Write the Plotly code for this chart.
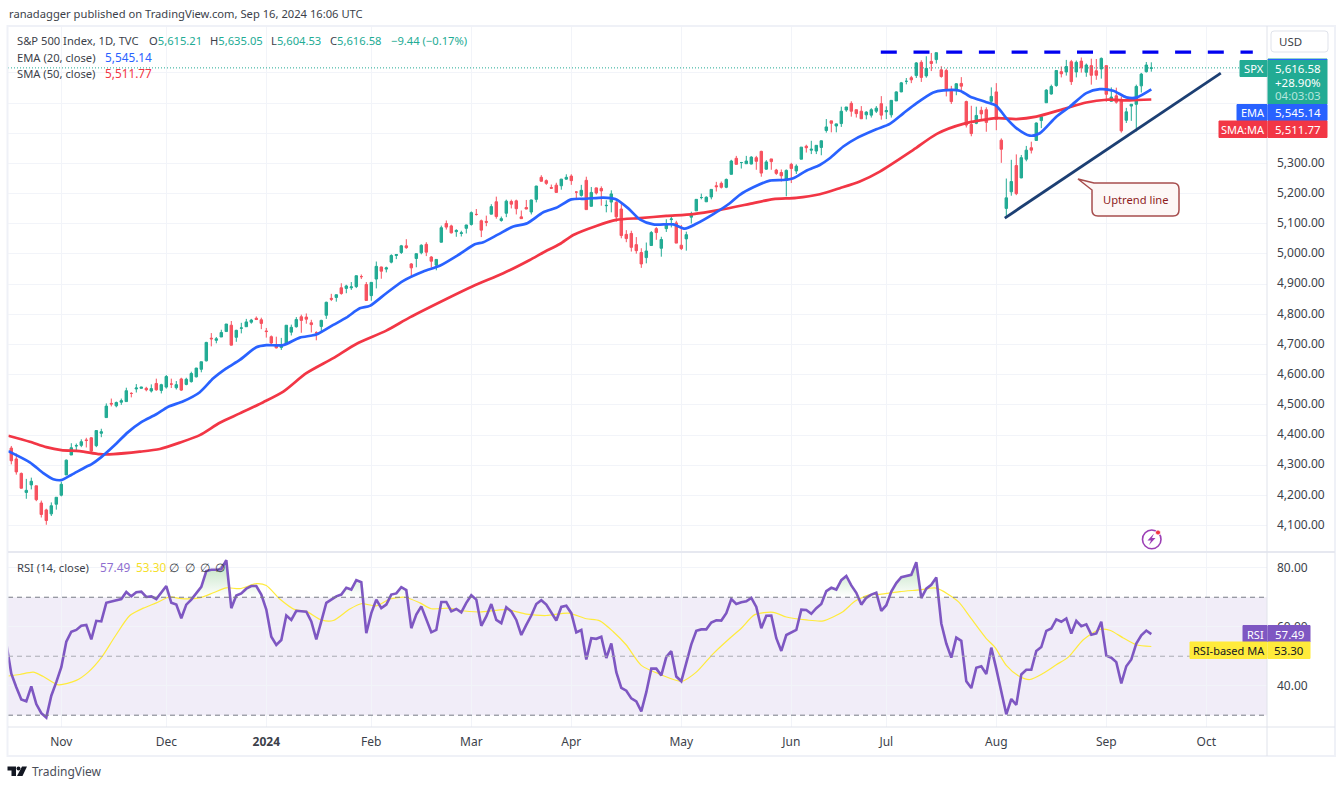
import plotly.graph_objects as go
from plotly.subplots import make_subplots

W, H = 1340, 788

# daily candles, Oct 18 2023 to Sep 16 2024 (bar 0 = Nov 1 2023)
opens = [
    4357, 4321, 4273, 4210, 4235, 4232, 4175, 4152, 4139, 4171,
    4201, 4268, 4334, 4364, 4366, 4384, 4391, 4365, 4406, 4458, 4505, 4497, 4509, 4511, 4538, 4553, 4555, 4555, 4546, 4571, 4548,
    4559, 4569, 4557, 4586, 4568, 4577, 4593, 4618, 4646, 4721, 4714, 4725, 4743, 4764, 4724, 4754, 4759, 4774, 4787, 4782,
    4745, 4726, 4697, 4690, 4703, 4741, 4759, 4792, 4791, 4772, 4739, 4760, 4797, 4853, 4856, 4888, 4886, 4888, 4892, 4925, 4899,
    4862, 4917, 4957, 4950, 4973, 4995, 5005, 5027, 4967, 4985, 5004, 5032, 4990, 4963, 5039, 5101, 5093, 5074, 5068, 5085,
    5098, 5131, 5110, 5108, 5132, 5173, 5111, 5135, 5174, 5176, 5123, 5154, 5139, 5181, 5254, 5243, 5220, 5228, 5226, 5248,
    5258, 5205, 5194, 5244, 5158, 5219, 5217, 5160, 5172, 5171, 5149, 5065, 5068, 5031, 5005, 4988, 5028, 5084, 5019, 5084, 5114, 5103,
    5029, 5050, 5122, 5143, 5187, 5173, 5189, 5226, 5234, 5221, 5264, 5317, 5303, 5299, 5298, 5319, 5340, 5281, 5315, 5278, 5270, 5244,
    5297, 5275, 5314, 5357, 5344, 5341, 5353, 5409, 5441, 5424, 5432, 5477, 5499, 5478, 5473, 5461, 5460, 5473, 5498,
    5471, 5461, 5507, 5537, 5572, 5584, 5591, 5635, 5590, 5638, 5644, 5610, 5608, 5543, 5544, 5565, 5505, 5429, 5433, 5476, 5478, 5506,
    5537, 5377, 5151, 5206, 5293, 5252, 5314, 5352, 5376, 5442, 5501, 5530, 5558, 5604, 5603, 5637, 5603, 5639, 5602, 5624, 5607, 5613,
    5624, 5506, 5524, 5507, 5443, 5490, 5496, 5557, 5604, 5615,
]
highs = [
    4364, 4339, 4276, 4255, 4259, 4232, 4183, 4156, 4177, 4194,
    4245, 4319, 4373, 4372, 4386, 4391, 4393, 4415, 4421, 4505, 4521, 4511, 4521, 4557, 4542, 4569, 4560, 4560, 4568, 4587, 4570,
    4599, 4587, 4579, 4590, 4590, 4610, 4623, 4643, 4709, 4738, 4725, 4749, 4768, 4778, 4749, 4772, 4785, 4785, 4793, 4789,
    4755, 4730, 4726, 4722, 4764, 4766, 4791, 4799, 4803, 4782, 4744, 4782, 4842, 4868, 4866, 4903, 4898, 4907, 4929, 4932, 4907,
    4906, 4975, 4958, 4958, 4999, 5000, 5030, 5049, 4970, 5002, 5032, 5039, 4993, 4983, 5094, 5111, 5097, 5082, 5077, 5097,
    5141, 5149, 5114, 5127, 5165, 5190, 5124, 5180, 5180, 5180, 5144, 5179, 5180, 5226, 5261, 5247, 5230, 5236, 5249, 5264,
    5264, 5208, 5229, 5256, 5222, 5220, 5224, 5178, 5211, 5176, 5168, 5079, 5077, 5056, 5019, 5038, 5076, 5089, 5057, 5115, 5124, 5110,
    5096, 5074, 5140, 5181, 5200, 5191, 5215, 5239, 5240, 5250, 5312, 5325, 5305, 5325, 5324, 5325, 5342, 5311, 5315, 5282, 5280, 5280,
    5302, 5297, 5354, 5362, 5375, 5360, 5376, 5447, 5441, 5432, 5488, 5487, 5506, 5478, 5490, 5473, 5483, 5490, 5523,
    5489, 5510, 5539, 5570, 5583, 5590, 5636, 5642, 5655, 5666, 5667, 5622, 5614, 5557, 5566, 5586, 5508, 5491, 5488, 5488, 5486, 5552,
    5566, 5383, 5250, 5312, 5330, 5328, 5358, 5372, 5436, 5463, 5546, 5561, 5609, 5621, 5643, 5643, 5641, 5651, 5631, 5647, 5646, 5651,
    5625, 5552, 5551, 5522, 5484, 5497, 5561, 5600, 5636, 5635,
]
lows = [
    4303, 4269, 4223, 4189, 4220, 4181, 4127, 4103, 4132, 4153,
    4197, 4268, 4334, 4347, 4360, 4359, 4343, 4360, 4393, 4458, 4495, 4492, 4500, 4511, 4525, 4541, 4554, 4545, 4541, 4547, 4538,
    4554, 4556, 4551, 4546, 4565, 4574, 4591, 4608, 4644, 4694, 4704, 4725, 4743, 4697, 4709, 4737, 4759, 4769, 4781, 4751,
    4723, 4696, 4687, 4682, 4700, 4730, 4756, 4739, 4769, 4740, 4714, 4740, 4785, 4844, 4842, 4865, 4870, 4881, 4887, 4917, 4845,
    4845, 4886, 4918, 4939, 4969, 4983, 5000, 5017, 4921, 4956, 4999, 4993, 4955, 4946, 5038, 5081, 5068, 5057, 5058, 5068,
    5094, 5127, 5056, 5092, 5131, 5117, 5107, 5122, 5151, 5131, 5117, 5148, 5131, 5171, 5240, 5229, 5216, 5203, 5213, 5246,
    5229, 5184, 5190, 5147, 5157, 5197, 5160, 5138, 5138, 5107, 5052, 5039, 5008, 5001, 4954, 4969, 5027, 5047, 4991, 5073, 5088, 5036,
    5013, 5011, 5101, 5143, 5181, 5172, 5181, 5207, 5217, 5218, 5263, 5297, 5283, 5299, 5297, 5279, 5256, 5279, 5279, 5262, 5240, 5191,
    5235, 5265, 5314, 5336, 5331, 5331, 5327, 5402, 5403, 5403, 5421, 5471, 5455, 5452, 5447, 5446, 5452, 5467, 5445,
    5447, 5452, 5507, 5536, 5562, 5566, 5583, 5570, 5584, 5606, 5631, 5584, 5522, 5497, 5526, 5540, 5419, 5390, 5430, 5444, 5405, 5493,
    5410, 5302, 5120, 5193, 5195, 5251, 5307, 5333, 5376, 5417, 5501, 5528, 5554, 5585, 5591, 5560, 5585, 5601, 5587, 5561, 5577, 5581,
    5504, 5505, 5498, 5402, 5434, 5441, 5406, 5535, 5601, 5604,
]
closes = [
    4315, 4278, 4224, 4217, 4247, 4186, 4137, 4117, 4166, 4194,
    4237, 4317, 4358, 4365, 4378, 4382, 4347, 4415, 4411, 4496, 4503, 4508, 4514, 4547, 4538, 4556, 4559, 4550, 4554, 4550, 4567,
    4594, 4569, 4567, 4549, 4585, 4604, 4622, 4643, 4707, 4719, 4719, 4740, 4768, 4698, 4747, 4755, 4775, 4781, 4783, 4770,
    4743, 4705, 4689, 4697, 4764, 4757, 4783, 4780, 4784, 4766, 4739, 4780, 4840, 4850, 4865, 4869, 4894, 4891, 4928, 4925, 4846,
    4906, 4959, 4943, 4954, 4995, 4998, 5027, 5021, 4954, 5001, 5029, 5006, 4976, 4982, 5087, 5089, 5070, 5078, 5070, 5096,
    5137, 5131, 5079, 5105, 5157, 5124, 5117, 5175, 5165, 5150, 5117, 5149, 5179, 5225, 5241, 5234, 5218, 5204, 5248, 5254,
    5243, 5205, 5211, 5147, 5204, 5202, 5209, 5161, 5199, 5123, 5061, 5051, 5022, 5011, 4967, 5010, 5071, 5071, 5048, 5100, 5116, 5036,
    5018, 5064, 5128, 5181, 5187, 5188, 5214, 5223, 5221, 5247, 5308, 5297, 5303, 5308, 5321, 5307, 5268, 5305, 5306, 5267, 5259, 5277,
    5283, 5291, 5354, 5352, 5347, 5360, 5375, 5421, 5433, 5431, 5473, 5487, 5473, 5465, 5448, 5470, 5478, 5483, 5460,
    5475, 5509, 5537, 5567, 5572, 5577, 5633, 5585, 5615, 5631, 5667, 5588, 5544, 5505, 5564, 5556, 5427, 5399, 5459, 5464, 5436, 5522,
    5446, 5347, 5186, 5240, 5200, 5319, 5344, 5344, 5434, 5455, 5543, 5555, 5608, 5597, 5621, 5571, 5635, 5617, 5626, 5592, 5592, 5648,
    5529, 5520, 5503, 5408, 5471, 5496, 5555, 5596, 5626, 5616.58,
]
bars = list(range(-10, 219))

# EMA 20, read every few bars
ema_x = [-10.6, -6.3, -3.6, -1.6, 0, 2, 5, 6, 8, 10.7, 13.3, 16, 19, 21.4, 24.4, 27.7, 30.4, 33, 35.7, 39, 41, 44.4, 47.7, 51,
         54.4, 57, 59.7, 61.7, 65, 68.4, 72.4, 75.7, 79.7, 82.7, 84.4, 87.4, 90.4, 93.2, 96.4, 99, 102, 105, 108.4, 110.8,
         113.4, 115.7, 118.4, 122.4, 124.7, 127, 130.4, 133.7, 135.7, 138.4, 141.7, 144.4, 146.4, 149, 151.7, 153.7, 156.4,
         159, 163, 165.7, 168.4, 171, 174.4, 176.4, 179.7, 181.7, 185, 187, 189, 191, 193.7, 195.7, 199, 201.7, 205, 207.7,
         210.4, 213, 215, 218]
ema_y = [4347, 4310, 4274, 4254, 4251, 4268, 4295, 4303, 4327, 4367, 4409, 4443, 4469, 4494, 4512, 4542, 4588, 4621, 4649, 4691,
         4698, 4698, 4723, 4733, 4765, 4789, 4820, 4828, 4870, 4911, 4942, 4961, 5000, 5032, 5039, 5065, 5091, 5102, 5138, 5153,
         5181, 5183, 5187, 5182, 5151, 5115, 5098, 5098, 5084, 5100, 5132, 5168, 5196, 5221, 5243, 5245, 5251, 5276, 5295, 5317,
         5356, 5383, 5413, 5431, 5466, 5499, 5535, 5542, 5541, 5522, 5503, 5491, 5450, 5417, 5392, 5400, 5455, 5488, 5533, 5546,
         5541, 5519, 5518, 5545.14]

# SMA 50
sma_x = [-10.6, -6.3, -3, 0, 3.7, 7.7, 10.4, 15.7, 19.7, 23.7, 27.7, 31.7, 35.7, 40.4, 44.4, 49, 54.4, 59, 65, 69.7, 77, 82.4,
         88.4, 93.7, 96.4, 99.7, 102.4, 107, 111, 115.7, 121, 126.4, 131.7, 137.7, 142.4, 147, 151.7, 155.7, 159.7, 163.7,
         170.4, 175.1, 180.4, 187, 191, 195, 200.4, 205, 209, 213.7, 218]
sma_y = [4398, 4378, 4360, 4350, 4347, 4337, 4337, 4345, 4354, 4375, 4400, 4441, 4472, 4509, 4544, 4605, 4655, 4702, 4746, 4790,
         4851, 4894, 4936, 4980, 5005, 5033, 5063, 5093, 5113, 5119, 5126, 5132, 5146, 5166, 5182, 5186, 5198, 5218, 5240, 5273,
         5345, 5398, 5431, 5450, 5447, 5455, 5480, 5502, 5511, 5509, 5511.77]

# RSI 14, one value per bar, first one sits just off the left edge
rsi_x = list(range(-11, 219))
rsi_y = [
    54.3, 44.1, 39.5, 35.3, 34.7, 39.8, 33.8, 30.7, 29.2, 36.6, 41.2,
    46.3, 54.9, 58.3, 58.9, 60.3, 60.6, 55.7, 62.0, 61.8, 68.1, 68.6, 69.0, 69.4, 71.8, 70.3, 71.7, 71.9, 70.1, 70.3, 69.4, 71.5,
    73.8, 68.1, 67.5, 62.9, 67.5, 69.2, 71.5, 73.5, 78.9, 79.3, 79.3, 79.5, 82.6, 66.3, 70.6, 71.3, 72.9, 73.8, 73.8, 70.9,
    65.8, 56.6, 53.8, 55.5, 63.8, 62.3, 65.4, 65.2, 65.1, 61.8, 55.7, 61.8, 68.1, 69.2, 70.3, 70.9, 73.2, 72.6, 75.8, 75.1, 57.8,
    64.6, 69.2, 66.3, 67.5, 70.9, 71.3, 73.4, 72.4, 59.5, 64.1, 66.9, 62.6, 58.1, 58.9, 68.4, 68.4, 65.2, 66.0, 64.9, 68.1,
    70.7, 69.2, 60.3, 63.5, 67.7, 62.3, 61.2, 66.6, 65.2, 62.3, 57.2, 60.6, 63.8, 67.7, 69.0, 67.5, 65.0, 62.1, 66.7, 67.1,
    64.6, 58.1, 58.9, 48.9, 56.1, 55.9, 56.6, 49.4, 54.3, 44.6, 39.3, 38.3, 35.7, 34.7, 31.3, 37.8, 45.8, 45.8, 43.5, 49.8, 51.7, 43.1,
    41.5, 47.5, 54.0, 58.6, 59.1, 59.1, 61.4, 62.2, 62.1, 64.6, 69.4, 67.7, 68.3, 68.6, 69.8, 66.7, 59.5, 63.7, 63.8, 56.1, 51.8, 57.2,
    58.0, 58.9, 65.8, 65.7, 64.4, 66.3, 67.7, 72.1, 73.2, 72.6, 75.8, 77.2, 74.0, 71.5, 67.5, 69.8, 70.9, 71.5, 65.4,
    67.3, 71.9, 74.8, 76.8, 77.3, 77.6, 81.9, 69.7, 72.9, 74.2, 76.7, 61.1, 54.3, 49.5, 56.3, 55.2, 41.5, 39.2, 46.1, 46.6, 44.0, 52.9,
    45.7, 37.7, 30.3, 35.5, 33.5, 43.8, 45.4, 45.4, 51.8, 53.1, 58.6, 59.4, 62.5, 61.7, 62.8, 57.7, 62.0, 60.2, 60.8, 57.3, 57.7, 61.7,
    50.2, 49.5, 48.0, 40.8, 46.6, 48.9, 54.3, 57.1, 58.7, 57.49,
]

# RSI-based MA
rsi_ma_x = [-10.6, -8.3, -5.6, -3.6, -0.6, 3, 5.4, 8, 10.7, 13.7, 16.4, 19, 21.7, 24, 27.7, 30.4, 33, 35.7, 39, 41, 43.7, 46.7,
            49, 52, 54.4, 57.7, 60, 63, 65.7, 68.7, 71.7, 74, 77.7, 79.7, 83.7, 89, 93, 97, 101.4, 105, 107.7, 110.4, 113, 116,
            120, 124.1, 127, 130.4, 133.7, 136, 138.7, 142.4, 145, 149, 152.4, 156.4, 158.7, 161.7, 163.7, 167.7, 171.7, 175,
            179.4, 181.7, 185, 186.7, 189, 191.4, 193.7, 196.4, 199, 201.4, 204.4, 207.7, 209.7, 212.4, 215, 218]
rsi_ma_y = [43.3, 43.8, 44.6, 43.1, 40.3, 41.8, 44.6, 49.5, 56.6, 63.8, 66.3, 68.1, 70.1, 69.5, 69.8, 71.5, 73.2, 72.9, 74.6, 74,
            69.4, 65.8, 65.2, 62.3, 62.1, 66, 67.8, 67.1, 69.4, 70, 68.1, 66.1, 66.3, 65.5, 65, 65.8, 64.3, 63.8, 64.6, 62.7, 62,
            58.3, 53.8, 46.9, 43.7, 41.5, 44.6, 50.9, 56.1, 59.5, 64.1, 64.9, 63.3, 62.3, 62, 65.2, 68.6, 70.9, 71, 71.9, 72.5,
            73.1, 68.5, 63.4, 56, 53.1, 46.9, 43.4, 42.1, 44.2, 47.1, 49.7, 55.6, 59.1, 58.8, 56.2, 53.9, 53.3]

# drawings on the price pane
resistance_x = [163.9, 238.3]
resistance_y = [5669, 5669]
trend_x = [188.7, 231.9]
trend_y = [5119, 5599]

last_close = 5616.58
rsi_upper, rsi_mid, rsi_lower = 70, 50, 30

# labels above 5,300 sit behind the price tags in the picture, only their grid lines show
price_ticks = [4100, 4200, 4300, 4400, 4500, 4600, 4700, 4800, 4900, 5000, 5100, 5200, 5300, 5400, 5500, 5600]
price_labels = [f"{p:,.2f}" if p <= 5300 else "" for p in price_ticks]
rsi_ticks = [40, 60, 80]
rsi_labels = ["40.00", "60.00", "80.00"]
month_ticks = [0, 21, 41, 62, 82, 102, 124, 146, 165, 187, 209, 229]
month_labels = ["Nov", "Dec", "<b>2024</b>", "Feb", "Mar", "Apr", "May", "Jun", "Jul", "Aug", "Sep", "Oct"]

FONT = "Noto Sans"
UP = "#22ab94"
DOWN = "#f7525f"
EMA_BLUE = "#2962ff"
SMA_RED = "#f23645"
RSI_PURPLE = "#7e57c2"
RSI_YELLOW = "#ffeb3b"
GRID = "#f2f4f9"
TEXT = "#3c3f4a"


def fx(px):
    return px / W


def fy(py):
    return 1 - py / H


def note(text, x, y, size=11.5, color=TEXT, anchor="left"):
    return dict(text=text, x=fx(x), y=fy(y), xref="paper", yref="paper", showarrow=False,
                xanchor=anchor, yanchor="middle", borderpad=0,
                font=dict(family=FONT, size=size, color=color))


def box(x0, y0, x1, y1, fill, line=None, width=1):
    return dict(type="rect", xref="paper", yref="paper", x0=fx(x0), x1=fx(x1), y0=fy(y0), y1=fy(y1),
                fillcolor=fill, line=dict(color=line or fill, width=width), layer="above")


def pixel_path(points, fill=None, line=None, width=1):
    # points are (cmd, x, y) in page pixels
    d = " ".join(f"{c}{fx(x):.5f},{fy(y):.5f}" if c != "Z" else "Z" for c, x, y in points)
    return dict(type="path", xref="paper", yref="paper", path=d, layer="above",
                fillcolor=fill or "rgba(0,0,0,0)", line=dict(color=line or "rgba(0,0,0,0)", width=width))


def round_rect(x0, y0, x1, y1, r, fill, line, width=1):
    d = (f"M{fx(x0+r):.5f},{fy(y0):.5f} L{fx(x1-r):.5f},{fy(y0):.5f} Q{fx(x1):.5f},{fy(y0):.5f} {fx(x1):.5f},{fy(y0+r):.5f} "
         f"L{fx(x1):.5f},{fy(y1-r):.5f} Q{fx(x1):.5f},{fy(y1):.5f} {fx(x1-r):.5f},{fy(y1):.5f} "
         f"L{fx(x0+r):.5f},{fy(y1):.5f} Q{fx(x0):.5f},{fy(y1):.5f} {fx(x0):.5f},{fy(y1-r):.5f} "
         f"L{fx(x0):.5f},{fy(y0+r):.5f} Q{fx(x0):.5f},{fy(y0):.5f} {fx(x0+r):.5f},{fy(y0):.5f} Z")
    return dict(type="path", xref="paper", yref="paper", path=d, layer="above",
                fillcolor=fill, line=dict(color=line, width=width))


fig = make_subplots(rows=2, cols=1, shared_xaxes=True)

fig.add_trace(go.Candlestick(
    x=bars, open=opens, high=highs, low=lows, close=closes,
    increasing=dict(line=dict(color=UP, width=1), fillcolor=UP),
    decreasing=dict(line=dict(color=DOWN, width=1), fillcolor=DOWN),
    whiskerwidth=0, hoverinfo="skip", showlegend=False,
), row=1, col=1)

fig.add_trace(go.Scatter(x=sma_x, y=sma_y, mode="lines", line=dict(color=SMA_RED, width=2.7, shape="spline", smoothing=0.7), showlegend=False), row=1, col=1)
fig.add_trace(go.Scatter(x=ema_x, y=ema_y, mode="lines", line=dict(color=EMA_BLUE, width=2.7, shape="spline", smoothing=0.7), showlegend=False), row=1, col=1)
fig.add_trace(go.Scatter(x=resistance_x, y=resistance_y, mode="lines",
                         line=dict(color="#0000f0", width=3.2, dash="16px,16.7px"), showlegend=False), row=1, col=1)
fig.add_trace(go.Scatter(x=trend_x, y=trend_y, mode="lines", line=dict(color="#1c3f73", width=2.8), showlegend=False), row=1, col=1)

# overbought glow between 70 and the RSI line
fig.add_trace(go.Scatter(x=rsi_x, y=[rsi_upper] * len(rsi_x), mode="lines", line=dict(width=0),
                         hoverinfo="skip", showlegend=False), row=2, col=1)
fig.add_trace(go.Scatter(x=rsi_x, y=[max(v, rsi_upper) for v in rsi_y], mode="lines", line=dict(width=0),
                         fill="tonexty", hoverinfo="skip", showlegend=False,
                         fillgradient=dict(type="vertical", start=85, stop=70,
                                           colorscale=[[0, "rgba(76,175,80,0.45)"], [1, "rgba(76,175,80,0)"]])), row=2, col=1)
fig.add_trace(go.Scatter(x=rsi_ma_x, y=rsi_ma_y, mode="lines", line=dict(color=RSI_YELLOW, width=1.2, shape="spline", smoothing=0.7), showlegend=False), row=2, col=1)
fig.add_trace(go.Scatter(x=rsi_x, y=rsi_y, mode="lines", line=dict(color=RSI_PURPLE, width=2.6), showlegend=False), row=2, col=1)

x_range = [-10.66, 241.14]
fig.update_xaxes(range=x_range, tickvals=month_ticks, ticktext=month_labels, showgrid=True, gridcolor=GRID, gridwidth=1,
                 zeroline=False, showline=False, rangeslider_visible=False, ticks="", tickfont=dict(family=FONT, size=12, color=TEXT))
fig.update_xaxes(showticklabels=False, row=1, col=1)
fig.update_xaxes(showticklabels=True, ticklabelstandoff=6, row=2, col=1)
fig.update_yaxes(side="right", showgrid=True, gridcolor=GRID, gridwidth=1, zeroline=False, showline=False, ticks="",
                 ticklabelstandoff=9, tickfont=dict(family=FONT, size=12, color=TEXT))
fig.update_yaxes(range=[4016, 5752], tickvals=price_ticks, ticktext=price_labels, ticklabelshift=-1, row=1, col=1)
fig.update_yaxes(range=[26, 85], tickvals=rsi_ticks, ticktext=rsi_labels, row=2, col=1)

fig.layout.xaxis.domain = [fx(8), fx(1267)]
fig.layout.xaxis2.domain = [fx(8), fx(1267)]
fig.layout.yaxis.domain = [fy(551), fy(27)]
fig.layout.yaxis2.domain = [fy(727), fy(553)]

shapes = [
    # rsi band and levels
    dict(type="rect", xref="x2 domain", yref="y2", x0=0, x1=1, y0=rsi_lower, y1=rsi_upper,
         fillcolor="rgba(126,87,194,0.11)", line=dict(width=0), layer="below"),
    dict(type="line", xref="x2 domain", yref="y2", x0=0, x1=1, y0=rsi_upper, y1=rsi_upper, line=dict(color="#787b86", width=1, dash="5px,4px")),
    dict(type="line", xref="x2 domain", yref="y2", x0=0, x1=1, y0=rsi_mid, y1=rsi_mid, line=dict(color="#a9abb3", width=1, dash="5px,4px")),
    dict(type="line", xref="x2 domain", yref="y2", x0=0, x1=1, y0=rsi_lower, y1=rsi_lower, line=dict(color="#787b86", width=1, dash="5px,4px")),
    # last price
    dict(type="line", xref="x domain", yref="y", x0=0, x1=1, y0=last_close, y1=last_close, line=dict(color=UP, width=1, dash="1px,2px")),
    # frame and pane separators
    dict(type="rect", xref="paper", yref="paper", x0=fx(7.5), x1=fx(1335), y0=fy(26), y1=fy(756), line=dict(color="#eff1f7", width=2), layer="above"),
    dict(type="line", xref="paper", yref="paper", x0=fx(8), x1=fx(1335), y0=fy(552), y1=fy(552), line=dict(color="#e6e8f0", width=2), layer="above"),
    dict(type="line", xref="paper", yref="paper", x0=fx(8), x1=fx(1335), y0=fy(727), y1=fy(727), line=dict(color="#e0e3eb", width=1), layer="above"),
    dict(type="line", xref="paper", yref="paper", x0=fx(1267), x1=fx(1267), y0=fy(26), y1=fy(756), line=dict(color="#e0e3eb", width=1), layer="above"),
    # price tags
    round_rect(1271, 31, 1328, 52, 3, "#ffffff", "#e0e3eb"),
    box(1240, 60.5, 1267, 76.5, UP),
    box(1268, 59, 1327, 104, UP),
    dict(type="line", xref="paper", yref="paper", x0=fx(1268), x1=fx(1327), y0=fy(59.5), y1=fy(59.5), line=dict(color=EMA_BLUE, width=1), layer="above"),
    box(1237, 104.5, 1267, 120.5, EMA_BLUE),
    box(1268, 104.5, 1327, 120.5, EMA_BLUE),
    box(1219, 121, 1267, 137.5, SMA_RED),
    box(1268, 121, 1327, 137.5, SMA_RED),
    box(1243, 625.5, 1267, 642, RSI_PURPLE),
    box(1268, 625.5, 1310, 642, RSI_PURPLE),
    box(1190, 642, 1267, 658.5, RSI_YELLOW),
    box(1268, 642, 1310, 658.5, RSI_YELLOW),
    # uptrend callout
    dict(type="path", xref="paper", yref="paper", layer="above", fillcolor="#fdf7f6", line=dict(color="#a64d4d", width=1.5),
         path=(f"M{fx(1078):.5f},{fy(179):.5f} L{fx(1094):.5f},{fy(183):.5f} L{fx(1173):.5f},{fy(183):.5f} "
               f"Q{fx(1179):.5f},{fy(183):.5f} {fx(1179):.5f},{fy(189):.5f} L{fx(1179):.5f},{fy(210):.5f} "
               f"Q{fx(1179):.5f},{fy(216):.5f} {fx(1173):.5f},{fy(216):.5f} L{fx(1098):.5f},{fy(216):.5f} "
               f"Q{fx(1092):.5f},{fy(216):.5f} {fx(1092):.5f},{fy(210):.5f} L{fx(1092):.5f},{fy(190):.5f} Z")),
    # flash icon
    dict(type="circle", xref="paper", yref="paper", x0=fx(1142.5), x1=fx(1161), y0=fy(530), y1=fy(548.8),
         line=dict(color="#9c3fb5", width=1.6), fillcolor="rgba(0,0,0,0)", layer="above"),
    pixel_path([("M", 1154, 533.5), ("L", 1147.5, 540.5), ("L", 1151, 540.5), ("L", 1149, 545), ("L", 1155.5, 538), ("L", 1152, 538), ("Z", 0, 0)], fill="#9c3fb5"),
    dict(type="circle", xref="paper", yref="paper", x0=fx(1155.5), x1=fx(1160.5), y0=fy(530), y1=fy(535),
         line=dict(color="#ffffff", width=0.8), fillcolor="#f23645", layer="above"),
    # TradingView logo
    pixel_path([("M", 7.5, 766.5), ("L", 16, 766.5), ("L", 16, 776), ("L", 11.5, 776), ("L", 11.5, 770.5), ("L", 7.5, 770.5), ("Z", 0, 0)], fill="#131722"),
    pixel_path([("M", 22, 766.5), ("L", 27, 766.5), ("L", 22.5, 776), ("L", 17, 776), ("Z", 0, 0)], fill="#131722"),
    dict(type="circle", xref="paper", yref="paper", x0=fx(16.5), x1=fx(20.5), y0=fy(766.5), y1=fy(770.5),
         fillcolor="#131722", line=dict(width=0), layer="above"),
]

green = f'<span style="color:{UP}">'
annotations = [
    note("ranadagger published on TradingView.com, Sep 16, 2024 16:06 UTC", 8, 13.5, size=11.2),
    note("S&amp;P 500 Index, 1D, TVC", 16, 40, size=11.2),
    note(f"O{green}5,615.21</span>", 148, 40, size=11.2),
    note(f"H{green}5,635.05</span>", 209, 40, size=11.2),
    note(f"L{green}5,604.53</span>", 270, 40, size=11.2),
    note(f"C{green}5,616.58</span>", 329, 40, size=11.2),
    note("−9.44 (−0.17%)", 390, 40, size=11.2, color=UP),
    note("EMA (20, close)", 16, 57, size=11.2),
    note("5,545.14", 104, 57, size=11.8, color=EMA_BLUE),
    note("SMA (50, close)", 16, 73.5, size=11.2),
    note("5,511.77", 104, 73.5, size=11.8, color=SMA_RED),
    note("RSI (14, close)", 16, 567, size=11.2),
    note("57.49", 99, 567, size=11.8, color="#8f6fd0"),
    note("53.30", 135, 567, size=11.8, color="#f5e02a"),
    note("∅", 174, 567, anchor="center"),
    note("∅", 190, 567, anchor="center"),
    note("∅", 205, 567, anchor="center"),
    note("∅", 220, 567, anchor="center"),
    note("USD", 1290, 42, anchor="center"),
    note("SPX", 1253.5, 68.5, size=11.2, color="#ffffff", anchor="center"),
    note("5,616.58", 1322, 68, color="#ffffff", anchor="right"),
    note("+28.90%", 1322, 82, color="#ffffff", anchor="right"),
    note("04:03:03", 1322, 95.5, color="#b5e6dc", anchor="right"),
    note("EMA", 1252.5, 112.5, size=11, color="#ffffff", anchor="center"),
    note("5,545.14", 1322, 112.5, color="#ffffff", anchor="right"),
    note("SMA:MA", 1243, 129.5, size=11, color="#ffffff", anchor="center"),
    note("5,511.77", 1322, 129.5, color="#ffffff", anchor="right"),
    note("RSI", 1255, 634, size=11, color="#ffffff", anchor="center"),
    note("57.49", 1305, 634, color="#ffffff", anchor="right"),
    note("RSI-based MA", 1228.5, 650.5, size=11, color="#131722", anchor="center"),
    note("53.30", 1305, 650.5, color="#131722", anchor="right"),
    note("Uptrend line", 1135.5, 199.5, size=11.2, color="#8e1c1c", anchor="center"),
    note("TradingView", 31, 771.5, size=12, color="#4a4e59"),
]

fig.update_layout(
    width=W, height=H, autosize=False,
    margin=dict(l=0, r=0, t=0, b=0),
    paper_bgcolor="#ffffff", plot_bgcolor="#ffffff",
    showlegend=False, hovermode=False,
    shapes=shapes, annotations=annotations,
    font=dict(family=FONT, size=12, color=TEXT),
)

fig.write_html("out.html", config=dict(displayModeBar=False),
               post_script="document.body.style.margin='0';document.body.style.overflow='hidden';")
